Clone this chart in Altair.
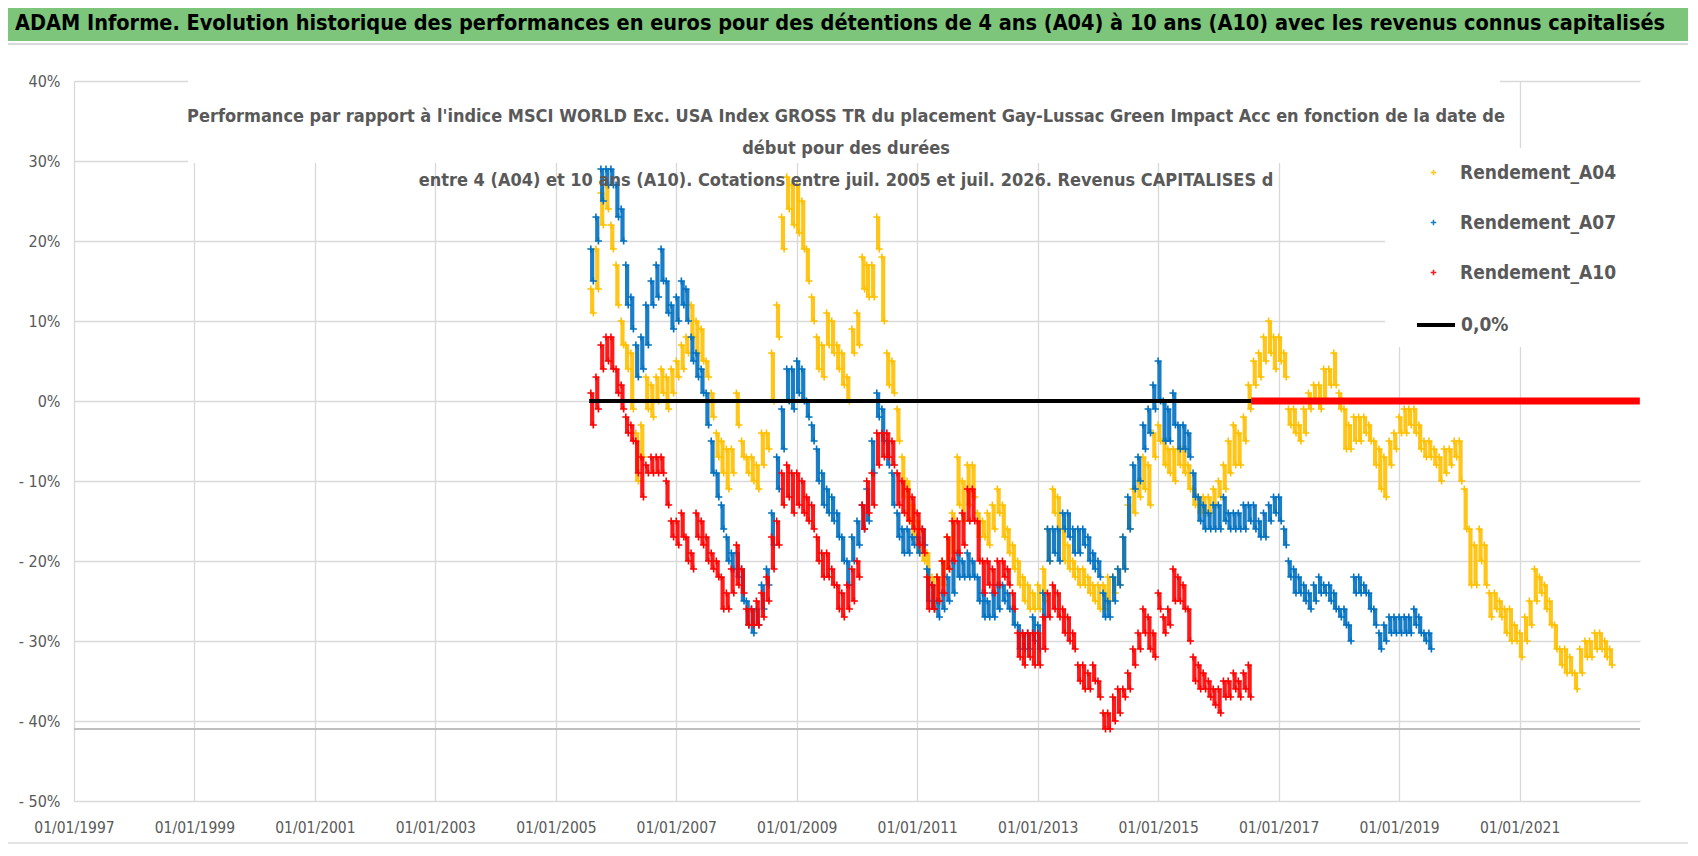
import altair as alt
import pandas as pd

# Monthly readings (percent): first value of the month / mid-month value
a04_start = "2005-08-01"
a04_hi = [
    14, 19, 26, 27, 22,  # 2005
    17, 10, 7, 6, -4, -3, 3, 2, 3, 4, 3, 4,  # 2006
    5, 7, 8, 12, 10, 9, 5, 1, -4, -5, -6, -6,  # 2007
    1, -5, -7, -7, -8, -4, -4, 6, 12, 23, 28, 27,  # 2008
    27, 25, 19, 13, 8, 7, 11, 10, 7, 6, 3, 9,  # 2009
    11, 18, 17, 17, 23, 18, 6, 5, -1, -7, -10, -13,  # 2010
    -15, -18, -19, -22, -22, -20, -17, -14, -7, -10, -8, -8,  # 2011
    -14, -15, -14, -13, -11, -13, -16, -18, -20, -22, -23, -24,  # 2012
    -23, -21, -16, -11, -12, -16, -18, -20, -21, -21, -22, -23,  # 2013
    -23, -23, -22, -22, -21, -17, -13, -11, -10, -7, -8, -4,  # 2014
    -3, -5, -6, -6, -6, -6, -8, -11, -12, -12, -12, -11,  # 2015
    -10, -8, -5, -3, -4, -2, 2, 5, 6, 8, 10, 8,  # 2016
    8, 6, -1, -1, -3, -1, 1, 2, 2, 4, 4, 6,  # 2017
    1, -1, -3, -2, -2, -2, -3, -5, -6, -7, -5, -4,  # 2018
    -2, -1, -1, -1, -3, -5, -5, -6, -7, -6, -6, -5,  # 2019
    -5, -11, -16, -18, -16, -18, -24, -24, -25, -26, -26, -28,  # 2020
    -29, -27, -25, -21, -22, -23, -25, -28, -31, -31, -32, -34,  # 2021
    -31, -30, -30, -29, -29, -30, -31,  # 2022
]
a04_lo = [
    11, 14, 22, 24, 19,
    12, 7, 4, -1, -10, -7, -1, -2, 0, 1, -1, 1,
    3, 4, 6, 8, 6, 5, 3, -2, -7, -9, -11, -9,
    -3, -7, -9, -10, -11, -8, -6, 0, 8, 19, 24, 22,
    21, 19, 15, 10, 4, 3, 7, 6, 4, 2, 0, 6,
    7, 14, 13, 13, 19, 10, 2, 1, -5, -12, -15, -17,
    -19, -20, -22, -26, -25, -23, -21, -19, -13, -15, -13, -12,
    -17, -17, -18, -16, -14, -17, -19, -21, -23, -25, -26, -26,
    -26, -25, -20, -14, -16, -20, -21, -22, -23, -23, -24, -25,
    -26, -26, -25, -24, -23, -21, -16, -14, -12, -11, -13, -7,
    -5, -8, -9, -10, -8, -9, -11, -13, -14, -14, -14, -13,
    -12, -11, -9, -8, -8, -5, -1, 2, 3, 5, 6, 4,
    5, 3, -3, -4, -5, -4, -1, 0, -1, 0, 2, 2,
    -1, -6, -6, -5, -5, -4, -5, -8, -11, -12, -8, -6,
    -4, -4, -3, -4, -6, -7, -7, -8, -10, -9, -8, -7,
    -10, -16, -23, -23, -20, -23, -27, -26, -27, -29, -30, -30,
    -32, -30, -28, -25, -24, -26, -28, -31, -33, -34, -34, -36,
    -34, -32, -32, -31, -31, -32, -33,
]

a07_start = "2005-08-01"
a07_hi = [
    19, 23, 29, 29, 29,  # 2005
    27, 24, 17, 13, 7, 8, 12, 15, 17, 19, 15, 12,  # 2006
    13, 15, 14, 8, 6, 4, 1, -5, -9, -13, -17, -19,  # 2007
    -19, -21, -25, -26, -26, -23, -21, -14, -7, -1, 4, 4,  # 2008
    5, 4, 0, -3, -6, -9, -11, -12, -14, -17, -20, -17,  # 2009
    -15, -13, -11, -5, 1, -1, -5, -9, -14, -16, -16, -17,  # 2010
    -17, -16, -21, -23, -25, -24, -22, -20, -19, -20, -19, -20,  # 2011
    -22, -24, -25, -24, -23, -23, -24, -26, -28, -29, -29, -27,  # 2012
    -28, -24, -16, -16, -16, -14, -14, -16, -16, -16, -17, -19,  # 2013
    -20, -24, -25, -22, -21, -17, -12, -8, -7, -3, -1, 2,  # 2014
    5, 0, -1, 1, -3, -3, -4, -9, -12, -13, -14, -13,  # 2015
    -13, -12, -14, -14, -14, -13, -13, -13, -15, -14, -13, -12,  # 2016
    -12, -16, -20, -21, -22, -23, -24, -23, -22, -23, -23, -24,  # 2017
    -26, -26, -28, -22, -22, -23, -24, -26, -29, -28, -27, -27,  # 2018
    -27, -27, -27, -26, -27, -29, -29,  # 2019
]
a07_lo = [
    15, 20, 25, 27, 27,
    23, 20, 12, 9, 3, 4, 7, 12, 13, 15, 11, 9,
    10, 12, 10, 5, 3, 1, -3, -9, -12, -16, -20, -21,
    -22, -25, -28, -29, -28, -26, -23, -18, -11, -6, 0, -1,
    1, 0, -2, -5, -10, -13, -14, -15, -17, -20, -23, -20,
    -18, -16, -15, -9, -2, -5, -8, -13, -17, -19, -19, -18,
    -19, -18, -25, -26, -27, -26, -25, -24, -22, -22, -22, -22,
    -25, -27, -27, -27, -26, -25, -26, -28, -31, -31, -31, -30,
    -31, -27, -20, -19, -20, -16, -17, -19, -19, -18, -20, -21,
    -22, -27, -27, -25, -23, -21, -16, -11, -10, -6, -4, -1,
    0, -5, -5, -3, -6, -6, -7, -12, -15, -16, -16, -16,
    -16, -15, -16, -16, -16, -16, -15, -16, -17, -17, -15, -14,
    -15, -18, -22, -24, -24, -25, -26, -25, -24, -24, -25, -26,
    -27, -28, -30, -24, -24, -24, -26, -28, -31, -30, -29, -29,
    -29, -29, -29, -28, -29, -30, -31,
]

a10_start = "2005-08-01"
a10_hi = [
    1, 3, 7, 8, 8,  # 2005
    4, 2, -2, -3, -5, -7, -8, -7, -7, -7, -10, -15,  # 2006
    -15, -14, -17, -19, -14, -15, -17, -19, -20, -22, -24, -21,  # 2007
    -18, -21, -26, -26, -25, -24, -22, -17, -15, -9, -8, -9,  # 2008
    -9, -10, -12, -13, -17, -19, -19, -21, -23, -24, -23, -21,  # 2009
    -20, -13, -10, -9, -4, -4, -4, -5, -9, -10, -11, -12,  # 2010
    -14, -16, -22, -23, -22, -20, -17, -15, -15, -14, -11, -11,  # 2011
    -15, -20, -20, -21, -20, -20, -21, -24, -29, -29, -29, -29,  # 2012
    -29, -27, -24, -23, -24, -26, -27, -29, -33, -33, -34, -33,  # 2013
    -35, -39, -39, -37, -36, -36, -34, -31, -29, -26, -27, -29,  # 2014
    -24, -27, -26, -21, -22, -23, -26, -32, -33, -34, -35, -36,  # 2015
    -36, -35, -35, -34, -35, -34, -33,  # 2016
]
a10_lo = [
    -3, -1, 4, 5, 4,
    1, -1, -4, -5, -9, -12, -9, -9, -9, -9, -13, -17,
    -18, -17, -20, -21, -17, -18, -20, -21, -22, -26, -26, -24,
    -23, -24, -28, -28, -28, -27, -25, -21, -18, -13, -12, -14,
    -13, -14, -15, -16, -20, -22, -22, -23, -26, -27, -26, -25,
    -22, -16, -14, -13, -8, -7, -7, -8, -13, -14, -15, -16,
    -18, -19, -26, -26, -25, -24, -21, -20, -19, -18, -15, -15,
    -20, -24, -23, -24, -23, -22, -23, -26, -32, -33, -32, -33,
    -33, -31, -27, -26, -27, -29, -30, -31, -35, -36, -36, -35,
    -37, -41, -41, -40, -39, -37, -36, -33, -31, -29, -31, -32,
    -26, -29, -28, -25, -25, -26, -30, -35, -36, -36, -37, -38,
    -39, -37, -37, -36, -37, -36, -37,
]

# A10 has no value after mid-2016: plotted as 0
a10_zero_dates = ["2016-07-19", "2022-12-31"]
zero_line_dates = ["2005-07-22", "2016-07-19"]
floor_value = [-41]

series_names = ["Rendement_A04", "Rendement_A07", "Rendement_A10"]
series_colors = ["#FFC000", "#0070C0", "#FF0000"]

main_title = ("ADAM Informe. Evolution historique des performances en euros pour des "
              "détentions de 4 ans (A04) à 10 ans (A10) avec les revenus connus capitalisés")
sub_title = [
    "Performance par rapport à l'indice MSCI WORLD Exc. USA Index GROSS TR  du placement "
    "Gay-Lussac Green Impact Acc en fonction de la date de",
    "début pour des durées",
    "entre 4 (A04) et 10 ans (A10). Cotations entre juil. 2005 et juil. 2026. Revenus CAPITALISES d",
]

FONT = "Liberation Sans Narrow, DejaVu Sans Condensed, Roboto, sans-serif"
GREY = "#595959"
PLUS = "M-1,0L1,0M0,-1L0,1"


def readings(name, start, hi, lo):
    months = pd.date_range(start, periods=len(hi), freq="MS")
    first = pd.DataFrame({"date": months, "value": hi, "series": name})
    second = pd.DataFrame({"date": months + pd.Timedelta(days=15), "value": lo, "series": name})
    spread = pd.DataFrame({"date": months + pd.Timedelta(days=8), "hi": hi, "lo": lo, "series": name})
    return pd.concat([first, second], ignore_index=True), spread


W, H = 1566, 720

x_enc = alt.X(
    "date:T",
    scale=alt.Scale(domain=[alt.DateTime(year=1997, month=1, date=1),
                            alt.DateTime(year=2023, month=1, date=1)]),
    axis=alt.Axis(
        title=None,
        values=[alt.DateTime(year=y, month=1, date=1) for y in range(1997, 2022, 2)],
        format="%d/%m/%Y",
        labelPadding=19,
        labelFontSize=15.5,
        labelOverlap=False,
        labelFlush=False,
    ),
)
y_enc = alt.Y(
    "value:Q",
    scale=alt.Scale(domain=[-50, 40], nice=False),
    axis=alt.Axis(
        title=None,
        values=list(range(-50, 41, 10)),
        labelExpr="datum.value < 0 ? '- ' + (-datum.value) + '%' : datum.value + '%'",
        labelPadding=14,
        labelFontSize=16,
    ),
)
color_enc = alt.Color(
    "series:N",
    scale=alt.Scale(domain=series_names, range=series_colors),
    legend=alt.Legend(
        title=None, orient="none", legendX=1350, legendY=82, padding=0,
        symbolType=PLUS, symbolSize=30, symbolStrokeWidth=1.5,
        labelFont=FONT, labelFontSize=19, labelFontWeight="bold", labelColor=GREY,
        labelOffset=17, rowPadding=30, labelLimit=300,
    ),
)

one = pd.DataFrame({"k": [0]})

# white boxes behind the inner title and the legend (they hide the grid)
title_box = alt.Chart(one).mark_rect(color="white").encode(
    x=alt.value(114), x2=alt.value(1426), y=alt.value(-11), y2=alt.value(82)
)
legend_box = alt.Chart(one).mark_rect(color="white").encode(
    x=alt.value(1311), x2=alt.value(W + 10), y=alt.value(67), y2=alt.value(266)
)
floor = alt.Chart(pd.DataFrame({"value": floor_value})).mark_rule(
    color="#BFBFBF", strokeWidth=2
).encode(y="value:Q")

series_layers = []
for name, start, hi, lo in [
    (series_names[0], a04_start, a04_hi, a04_lo),
    (series_names[1], a07_start, a07_hi, a07_lo),
    (series_names[2], a10_start, a10_hi, a10_lo),
]:
    pts, spread = readings(name, start, hi, lo)
    series_layers.append(
        alt.Chart(spread).mark_rule(strokeWidth=4.2, opacity=0.9).encode(
            x=x_enc, y=alt.Y("lo:Q"), y2="hi:Q", color=color_enc
        )
    )
    series_layers.append(
        alt.Chart(pts).mark_point(
            shape=PLUS, filled=False, size=49, strokeWidth=1.6, opacity=1
        ).encode(x=x_enc, y=y_enc, color=color_enc)
    )

tail = alt.Chart(pd.DataFrame({"date": pd.to_datetime(a10_zero_dates), "value": [0, 0]})).mark_line(
    color="#FF0000", strokeWidth=7
).encode(x="date:T", y="value:Q")

zero = alt.Chart(
    pd.DataFrame({"date": pd.to_datetime(zero_line_dates), "value": [0, 0], "label": "0,0%"})
).mark_line(strokeWidth=4).encode(
    x="date:T",
    y="value:Q",
    stroke=alt.Stroke(
        "label:N",
        scale=alt.Scale(domain=["0,0%"], range=["#000000"]),
        legend=alt.Legend(
            title=None, orient="none", legendX=1341, legendY=223, padding=0,
            symbolType="stroke", symbolSize=1444, symbolStrokeWidth=4,
            labelFont=FONT, labelFontSize=19, labelFontWeight="bold", labelColor=GREY,
            labelOffset=4,
        ),
    ),
)

banner = alt.Chart(one).mark_rect(color="#7DC57A").encode(
    x=alt.value(-66), x2=alt.value(W + 48), y=alt.value(-73), y2=alt.value(-40)
)
banner_line = alt.Chart(one).mark_rule(color="#D9D9D9", strokeWidth=2).encode(
    x=alt.value(-66), x2=alt.value(W + 48), y=alt.value(-37)
)
bottom_line = alt.Chart(one).mark_rule(color="#D9D9D9", strokeWidth=1.5).encode(
    x=alt.value(-66), x2=alt.value(W + 48), y=alt.value(H + 42)
)
banner_text = alt.Chart(one).mark_text(
    font=FONT, fontSize=21.5, fontWeight="bold", color="black", align="center", baseline="middle"
).encode(x=alt.value(766), y=alt.value(-57), text=alt.value(main_title))

inner_title = alt.Chart(one).mark_text(
    font=FONT, fontSize=18, fontWeight="bold", color=GREY, align="center",
    baseline="middle", lineHeight=32,
).encode(x=alt.value(772), y=alt.value(36), text=alt.value(sub_title))

chart = (
    alt.layer(
        title_box, legend_box, floor, *series_layers, tail, zero,
        banner, banner_line, bottom_line, banner_text, inner_title,
    )
    .properties(
        width=W,
        height=H,
        padding={"left": 66, "top": 73, "right": 48, "bottom": 45},
        autosize=alt.AutoSizeParams(type="none"),
        background="white",
    )
    .configure_view(stroke=None)
    .configure_axis(
        grid=True,
        gridColor="#D9D9D9",
        gridWidth=1.3,
        domain=False,
        ticks=False,
        labelFont=FONT,
        labelColor=GREY,
    )
)

chart.save("out.html", embed_options={"renderer": "svg", "actions": False})
